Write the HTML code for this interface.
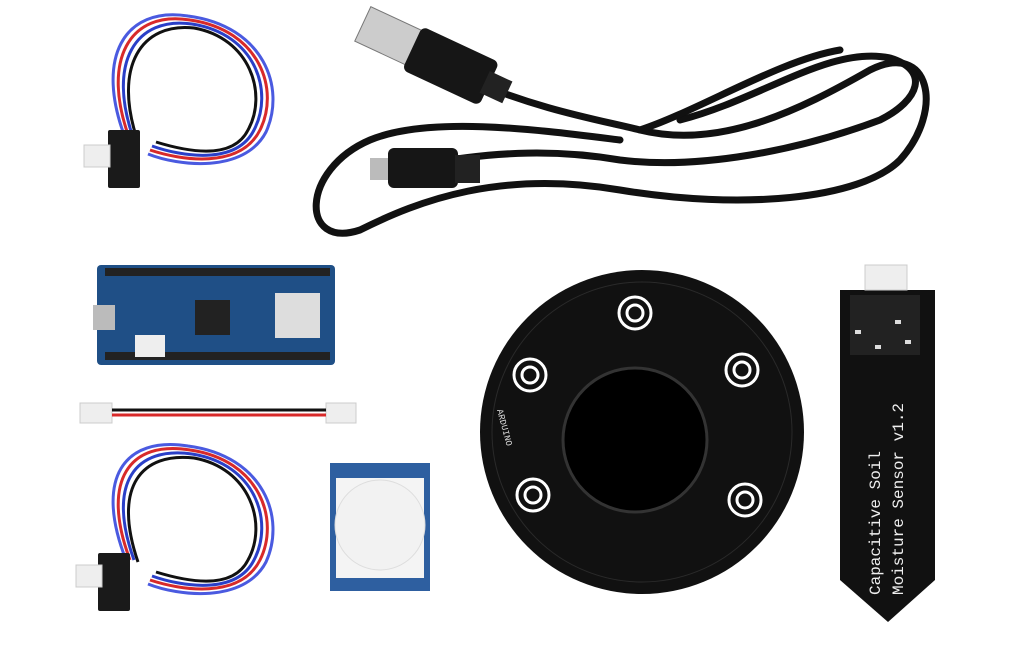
<!DOCTYPE html>
<html><head><meta charset="utf-8"><style>
html,body{margin:0;padding:0;background:#fff;width:1024px;height:660px;overflow:hidden}
svg{display:block}
</style></head><body>
<svg width="1024" height="660" viewBox="0 0 1024 660" xmlns="http://www.w3.org/2000/svg">
<rect width="1024" height="660" fill="#fff"/>
<g fill="none" stroke-width="3">
<path d="M130,140 C100,60 130,10 190,20 C260,30 280,90 260,130 C240,170 180,160 150,150" stroke="#d82a2a"/>
<path d="M134,140 C106,62 136,16 192,24 C256,34 274,92 254,130 C236,166 180,156 152,146" stroke="#2a3fc8"/>
<path d="M138,142 C112,66 142,22 194,28 C250,38 268,94 248,130 C232,162 182,150 156,142" stroke="#111"/>
<path d="M126,140 C94,58 124,6 188,16 C264,26 286,88 266,132 C244,174 178,166 148,154" stroke="#4a5ae0"/>
</g>
<rect x="108" y="130" width="32" height="58" rx="2" fill="#1a1a1a"/>
<rect x="84" y="145" width="26" height="22" fill="#eee" stroke="#ccc"/>
<g fill="none" stroke-width="3">
<path d="M130,560 C100,480 130,440 190,450 C260,460 280,520 260,560 C240,600 180,590 150,580" stroke="#d82a2a"/>
<path d="M134,560 C106,482 136,446 192,454 C256,464 274,522 254,560 C236,596 180,586 152,576" stroke="#2a3fc8"/>
<path d="M138,562 C112,486 142,452 194,458 C250,468 268,524 248,560 C232,592 182,580 156,572" stroke="#111"/>
<path d="M126,560 C94,478 124,436 188,446 C264,456 286,518 266,562 C244,604 178,596 148,584" stroke="#4a5ae0"/>
</g>
<rect x="98" y="553" width="32" height="58" rx="2" fill="#1a1a1a"/>
<rect x="76" y="565" width="26" height="22" fill="#eee" stroke="#ccc"/>
<g fill="none" stroke="#111" stroke-width="7" stroke-linecap="round">
<path d="M470,80 C540,110 600,120 640,130 C720,150 800,110 870,70 C930,40 945,110 900,160 C860,200 740,210 620,190 C500,170 420,200 360,230 C300,250 300,170 370,140 C430,115 540,130 620,140"/>
<path d="M420,165 C500,150 560,150 620,160 C700,170 800,150 880,120 C920,100 930,70 890,58 C830,45 760,100 680,120"/>
<path d="M640,130 C700,110 780,60 840,50"/>
</g>
<g transform="rotate(25 420 55)">
<rect x="355" y="32" width="60" height="38" fill="#ccc" stroke="#777"/>
<rect x="410" y="28" width="85" height="48" rx="6" fill="#161616"/>
<rect x="490" y="40" width="25" height="24" fill="#222"/>
</g>
<rect x="370" y="158" width="20" height="22" fill="#bbb"/>
<rect x="388" y="148" width="70" height="40" rx="6" fill="#161616"/>
<rect x="455" y="155" width="25" height="28" fill="#222"/>
<rect x="97" y="265" width="238" height="100" rx="4" fill="#1f4f86"/>
<rect x="105" y="268" width="225" height="8" fill="#222"/>
<rect x="105" y="352" width="225" height="8" fill="#222"/>
<rect x="195" y="300" width="35" height="35" fill="#222"/>
<rect x="275" y="293" width="45" height="45" fill="#ddd"/>
<rect x="93" y="305" width="22" height="25" fill="#bbb"/>
<rect x="135" y="335" width="30" height="22" fill="#eee"/>
<rect x="80" y="403" width="32" height="20" fill="#eee" stroke="#ccc"/>
<rect x="326" y="403" width="30" height="20" fill="#eee" stroke="#ccc"/>
<line x1="112" y1="410" x2="326" y2="410" stroke="#111" stroke-width="3"/>
<line x1="112" y1="415" x2="326" y2="415" stroke="#d82a2a" stroke-width="3"/>
<rect x="330" y="463" width="100" height="128" fill="#2e5fa0"/>
<rect x="336" y="478" width="88" height="100" fill="#f4f4f4"/>
<circle cx="380" cy="525" r="45" fill="#f2f2f2" stroke="#ddd"/>
<circle cx="642" cy="432" r="162" fill="#111"/>
<circle cx="642" cy="432" r="150" fill="none" stroke="#2a2a2a" stroke-width="1"/>
<circle cx="635" cy="440" r="72" fill="#000" stroke="#333" stroke-width="3"/>
<g fill="none" stroke="#fff" stroke-width="3">
<circle cx="530" cy="375" r="16"/><circle cx="635" cy="313" r="16"/><circle cx="742" cy="370" r="16"/>
<circle cx="533" cy="495" r="16"/><circle cx="745" cy="500" r="16"/>
<circle cx="530" cy="375" r="8"/><circle cx="635" cy="313" r="8"/><circle cx="742" cy="370" r="8"/>
<circle cx="533" cy="495" r="8"/><circle cx="745" cy="500" r="8"/>
</g>
<text x="0" y="0" transform="translate(497 410) rotate(75)" fill="#ddd" font-family="Liberation Mono,monospace" font-size="9">ARDUINO</text>
<path d="M840,290 L935,290 L935,580 L888,622 L840,580 Z" fill="#111"/>
<rect x="865" y="265" width="42" height="25" fill="#eee" stroke="#ccc"/>
<rect x="850" y="295" width="70" height="60" fill="#222"/>
<g fill="#ddd"><rect x="855" y="330" width="6" height="4"/><rect x="875" y="345" width="6" height="4"/><rect x="895" y="320" width="6" height="4"/><rect x="905" y="340" width="6" height="4"/></g>
<text transform="translate(880 595) rotate(-90)" fill="#eee" font-family="Liberation Mono,monospace" font-size="16">Capacitive Soil</text>
<text transform="translate(903 595) rotate(-90)" fill="#eee" font-family="Liberation Mono,monospace" font-size="16">Moisture Sensor v1.2</text>
</svg>
</body></html>
